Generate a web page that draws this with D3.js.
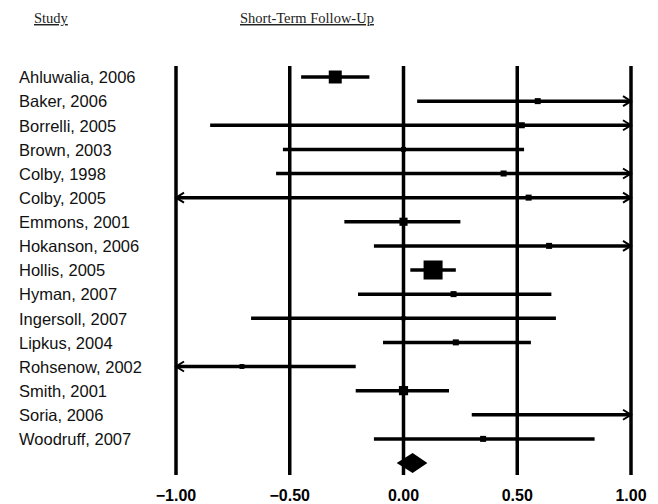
<!DOCTYPE html>
<html>
<head>
<meta charset="utf-8">
<script src="https://cdn.jsdelivr.net/npm/d3@7"></script>
<style>
  body { margin: 0; background: #fff; }
  svg { display: block; }
  .label { font-family: "Liberation Sans", Arial, sans-serif; font-size: 16.5px; fill: #111; }
  .tick-label { font-family: "Liberation Sans", Arial, sans-serif; font-size: 16px; font-weight: bold; fill: #000; }
  .header { font-family: "Liberation Serif", "Times New Roman", serif; font-size: 14.5px; fill: #222; text-decoration: underline; }
</style>
</head>
<body>
<svg width="658" height="504"></svg>
<script>
// Study data
var studies = ["Ahluwalia, 2006", "Baker, 2006", "Borrelli, 2005", "Brown, 2003", "Colby, 1998",
  "Colby, 2005", "Emmons, 2001", "Hokanson, 2006", "Hollis, 2005", "Hyman, 2007", "Ingersoll, 2007",
  "Lipkus, 2004", "Rohsenow, 2002", "Smith, 2001", "Soria, 2006", "Woodruff, 2007"];
var estimates = [-0.30, 0.59, 0.52, 0.00, 0.44, 0.55, 0.00, 0.64, 0.13, 0.22, 0.00, 0.23, -0.71, 0.00, 1.05, 0.35];
var lower = [-0.45, 0.06, -0.85, -0.53, -0.56, -1.20, -0.26, -0.13, 0.03, -0.20, -0.67, -0.09, -1.25, -0.21, 0.30, -0.13];
var upper = [-0.15, 1.15, 1.20, 0.53, 1.40, 1.30, 0.25, 1.45, 0.23, 0.65, 0.67, 0.56, -0.21, 0.20, 1.80, 0.84];
var weights = [14, 3, 3, 2, 3, 3, 5.5, 3, 30, 3, 1.5, 3, 2, 7, 3, 3];

// Pooled estimate
var pooled = { est: 0.04, lo: -0.03, hi: 0.105 };

var ticks = [-1.00, -0.50, 0.00, 0.50, 1.00];

var svg = d3.select("svg");

var x = d3.scaleLinear().domain([-1, 1]).range([176, 631]);
var y = d3.scalePoint().domain(studies.concat(["pooled"])).range([77, 463]);
var size = d3.scaleSqrt().domain([0, 30]).range([0, 19]);

//Headers
svg.append("text").attr("class", "header").attr("x", 34).attr("y", 23).text("Study");
svg.append("text").attr("class", "header").attr("x", 240).attr("y", 23).text("Short-Term Follow-Up");

//Vertical reference lines + tick labels
svg.selectAll(".vline")
  .data(ticks)
  .enter().append("line")
  .attr("class", "vline")
  .attr("x1", d => x(d)).attr("x2", d => x(d))
  .attr("y1", 66).attr("y2", 475)
  .attr("stroke", "#000").attr("stroke-width", 3.5);

svg.selectAll(".tick-label")
  .data(ticks)
  .enter().append("text")
  .attr("class", "tick-label")
  .attr("x", d => x(d))
  .attr("y", 501)
  .attr("text-anchor", "middle")
  .text(d => d3.format(".2f")(d));

//Study labels
svg.selectAll(".label")
  .data(studies)
  .enter().append("text")
  .attr("class", "label")
  .attr("x", 19)
  .attr("y", d => y(d))
  .attr("dy", "0.38em")
  .text(d => d);

var rows = studies.map(function(s, i) {
  return { name: s, est: estimates[i], lo: lower[i], hi: upper[i], w: weights[i] };
});

var xmin = x.domain()[0], xmax = x.domain()[1];
var clamp = v => Math.max(xmin, Math.min(xmax, v));

var g = svg.append("g");

//Confidence interval lines
g.selectAll(".ci")
  .data(rows)
  .enter().append("line")
  .attr("class", "ci")
  .attr("x1", d => x(clamp(d.lo))).attr("x2", d => x(clamp(d.hi)))
  .attr("y1", d => y(d.name)).attr("y2", d => y(d.name))
  .attr("stroke", "#000").attr("stroke-width", 3.5);

//Open arrowheads where the interval runs off the plot
g.selectAll(".arrow-r")
  .data(rows.filter(d => d.hi > xmax))
  .enter().append("path")
  .attr("class", "arrow-r")
  .attr("d", d => {
    var px = x(xmax), py = y(d.name);
    return "M" + (px - 8) + "," + (py - 5) + "L" + px + "," + py + "L" + (px - 8) + "," + (py + 5);
  })
  .attr("fill", "none").attr("stroke", "#000").attr("stroke-width", 2);

g.selectAll(".arrow-l")
  .data(rows.filter(d => d.lo < xmin))
  .enter().append("path")
  .attr("class", "arrow-l")
  .attr("d", d => {
    var px = x(xmin), py = y(d.name);
    return "M" + (px + 8) + "," + (py - 5) + "L" + px + "," + py + "L" + (px + 8) + "," + (py + 5);
  })
  .attr("fill", "none").attr("stroke", "#000").attr("stroke-width", 2);

//Point estimates (square size by weight)
g.selectAll(".pt")
  .data(rows.filter(d => d.est >= xmin && d.est <= xmax))
  .enter().append("rect")
  .attr("class", "pt")
  .attr("x", d => x(d.est) - size(d.w) / 2)
  .attr("y", d => y(d.name) - size(d.w) / 2)
  .attr("width", d => size(d.w))
  .attr("height", d => size(d.w))
  .attr("fill", "#000");

//Pooled diamond
var py = y("pooled");
g.append("path")
  .attr("d", "M" + x(pooled.lo) + "," + py
    + "L" + x(pooled.est) + "," + (py - 10)
    + "L" + x(pooled.hi) + "," + py
    + "L" + x(pooled.est) + "," + (py + 10) + "Z")
  .attr("fill", "#000");
</script>
</body>
</html>
